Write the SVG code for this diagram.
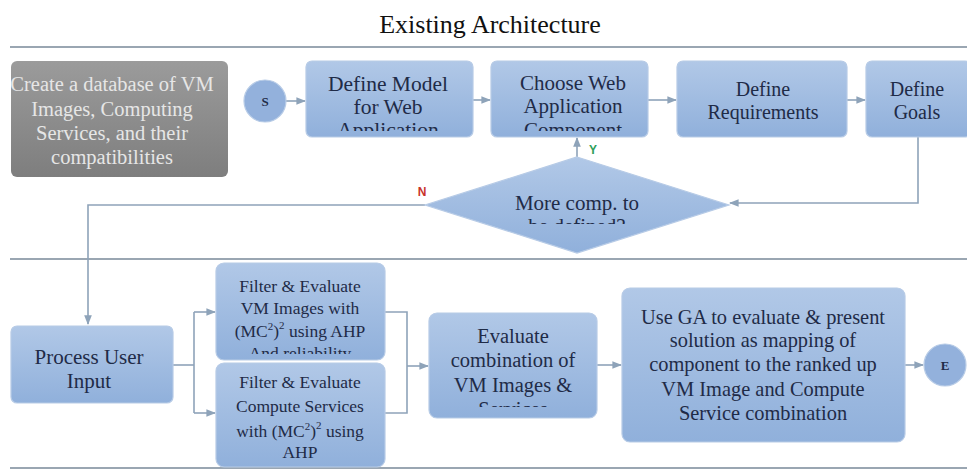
<svg xmlns="http://www.w3.org/2000/svg" width="967" height="471" viewBox="0 0 967 471">
<style>
.t{font-family:"Liberation Serif","Times New Roman",serif;fill:#1f2b47;text-anchor:middle}
.g{font-family:"Liberation Serif","Times New Roman",serif;fill:#e6e6e6;text-anchor:middle;font-size:20.5px}
.box{fill:url(#blue);stroke:#b7cbe6;stroke-width:1.2}
.sep{stroke:#9aa6b2;stroke-width:2;fill:none}
.c{stroke:#8ea3b9;stroke-width:1.6;fill:none}
</style>
<defs>
<linearGradient id="blue" x1="0" y1="0" x2="0" y2="1">
<stop offset="0" stop-color="#b1c8e7"/>
<stop offset="1" stop-color="#90b0db"/>
</linearGradient>
<linearGradient id="gray" x1="0" y1="0" x2="0" y2="1">
<stop offset="0" stop-color="#9b9b9b"/>
<stop offset="1" stop-color="#7e7e7e"/>
</linearGradient>
<marker id="ah" viewBox="0 0 10 10" refX="9" refY="5" markerWidth="6" markerHeight="6" orient="auto">
<path d="M0,1 L10,5 L0,9 z" fill="#8ea3b9"/>
</marker>
<clipPath id="cDM"><rect x="306" y="61" width="167" height="70"/></clipPath>
<clipPath id="cCW"><rect x="491" y="61" width="157" height="70"/></clipPath>
<clipPath id="cDi"><rect x="425" y="157" width="304" height="67"/></clipPath>
<clipPath id="cF1"><rect x="216" y="263" width="169" height="91"/></clipPath>
<clipPath id="cEv"><rect x="429" y="313" width="168" height="94"/></clipPath>
<clipPath id="cGr"><rect x="11" y="61" width="217" height="116"/></clipPath>
</defs>

<text x="490" y="33" style="font-family:'Liberation Serif','Times New Roman',serif;font-size:26px;fill:#111;text-anchor:middle">Existing Architecture</text>

<g id="separators">
<line class="sep" x1="10" y1="47" x2="967" y2="47"/>
<line class="sep" x1="10" y1="259" x2="967" y2="259"/>
<line class="sep" x1="10" y1="468" x2="967" y2="468"/>
</g>

<g id="connectors">
<line class="c" x1="286" y1="101" x2="305" y2="101" marker-end="url(#ah)"/>
<line class="c" x1="473" y1="100" x2="490" y2="100" marker-end="url(#ah)"/>
<line class="c" x1="648" y1="100" x2="676" y2="100" marker-end="url(#ah)"/>
<line class="c" x1="847" y1="100" x2="865" y2="100" marker-end="url(#ah)"/>
<polyline class="c" points="918,137 918,203 730,203" marker-end="url(#ah)"/>
<line class="c" x1="577" y1="157" x2="577" y2="138" marker-end="url(#ah)"/>
<polyline class="c" points="425,205 88,205 88,324" marker-end="url(#ah)"/>
<polyline class="c" points="173,365 194,365"/>
<line class="c" x1="194" y1="312" x2="194" y2="413"/>
<line class="c" x1="194" y1="312" x2="215" y2="312" marker-end="url(#ah)"/>
<line class="c" x1="194" y1="413" x2="215" y2="413" marker-end="url(#ah)"/>
<polyline class="c" points="385,312 407,312 407,413 385,413"/>
<line class="c" x1="407" y1="366" x2="428" y2="366" marker-end="url(#ah)"/>
<line class="c" x1="597" y1="365" x2="621" y2="365" marker-end="url(#ah)"/>
<line class="c" x1="905" y1="365" x2="923" y2="365" marker-end="url(#ah)"/>
<text x="593" y="154" style="font-family:'Liberation Sans',Arial,sans-serif;font-size:12px;font-weight:bold;fill:#2e9e5a;text-anchor:middle">Y</text>
<text x="422" y="196" style="font-family:'Liberation Sans',Arial,sans-serif;font-size:12px;font-weight:bold;fill:#c8322a;text-anchor:middle">N</text>
</g>

<g id="db">
<rect x="11" y="61" width="217" height="116" rx="6" fill="url(#gray)"/>
<g clip-path="url(#cGr)">
<text class="g" x="112" y="91">Create a database of VM</text>
<text class="g" x="112" y="116">Images, Computing</text>
<text class="g" x="112" y="140">Services, and their</text>
<text class="g" x="112" y="164">compatibilities</text>
</g>
</g>

<g id="start">
<circle cx="265" cy="101" r="21" fill="#93b1dc" stroke="#b7cbe6" stroke-width="1.2"/>
<text class="t" x="265" y="106" style="font-size:13px;font-weight:bold">S</text>
</g>

<g id="defineModel">
<rect class="box" x="306" y="61" width="167" height="76" rx="6"/>
<g clip-path="url(#cDM)">
<text class="t" x="388" y="91" style="font-size:21.5px">Define Model</text>
<text class="t" x="388" y="114" style="font-size:21.5px">for Web</text>
<text class="t" x="388" y="137" style="font-size:21.5px">Application</text>
</g>
</g>

<g id="chooseWeb">
<rect class="box" x="491" y="61" width="157" height="76" rx="6"/>
<g clip-path="url(#cCW)">
<text class="t" x="573" y="90" style="font-size:21px">Choose Web</text>
<text class="t" x="573" y="113" style="font-size:21px">Application</text>
<text class="t" x="573" y="137" style="font-size:21px">Component</text>
</g>
</g>

<g id="defineReq">
<rect class="box" x="677" y="61" width="170" height="76" rx="6"/>
<text class="t" x="763" y="96" style="font-size:20px">Define</text>
<text class="t" x="763" y="119" style="font-size:20px">Requirements</text>
</g>

<g id="defineGoals">
<rect class="box" x="866" y="61" width="105" height="76" rx="6"/>
<text class="t" x="917" y="96" style="font-size:20px">Define</text>
<text class="t" x="917" y="119" style="font-size:20px">Goals</text>
</g>

<g id="decision">
<polygon points="577,157 729,205 577,253 425,205" fill="url(#blue)" stroke="#b7cbe6" stroke-width="1.2"/>
<g clip-path="url(#cDi)">
<text class="t" x="577" y="210" style="font-size:21px">More comp. to</text>
<text class="t" x="577" y="233" style="font-size:21px">be defined?</text>
</g>
</g>

<g id="processInput">
<rect class="box" x="11" y="326" width="162" height="77" rx="6"/>
<text class="t" x="89" y="364" style="font-size:21px">Process User</text>
<text class="t" x="89" y="388" style="font-size:21px">Input</text>
</g>

<g id="filterVM">
<rect class="box" x="216" y="263" width="169" height="97" rx="8"/>
<g clip-path="url(#cF1)">
<text class="t" x="300" y="292" style="font-size:17.5px">Filter &amp; Evaluate</text>
<text class="t" x="300" y="314" style="font-size:17.5px">VM Images with</text>
<text class="t" x="300" y="337" style="font-size:17.5px">(MC<tspan font-size="11" dy="-7">2</tspan><tspan dy="7">)</tspan><tspan font-size="11" dy="-8">2</tspan><tspan dy="8"> using AHP</tspan></text>
<text class="t" x="300" y="359" style="font-size:17.5px">And reliability</text>
</g>
</g>

<g id="filterCS">
<rect class="box" x="216" y="363" width="169" height="104" rx="8"/>
<text class="t" x="300" y="388" style="font-size:17.5px">Filter &amp; Evaluate</text>
<text class="t" x="300" y="412" style="font-size:17.5px">Compute Services</text>
<text class="t" x="300" y="437" style="font-size:17.5px">with (MC<tspan font-size="11" dy="-7">2</tspan><tspan dy="7">)</tspan><tspan font-size="11" dy="-8">2</tspan><tspan dy="8"> using</tspan></text>
<text class="t" x="300" y="458" style="font-size:17.5px">AHP</text>
</g>

<g id="evalCombo">
<rect class="box" x="429" y="313" width="168" height="105" rx="8"/>
<g clip-path="url(#cEv)">
<text class="t" x="513" y="343" style="font-size:20.5px">Evaluate</text>
<text class="t" x="513" y="367" style="font-size:20.5px">combination of</text>
<text class="t" x="513" y="392" style="font-size:20.5px">VM Images &amp;</text>
<text class="t" x="513" y="416" style="font-size:20.5px">Services</text>
</g>
</g>

<g id="useGA">
<rect class="box" x="622" y="288" width="283" height="154" rx="8"/>
<text class="t" x="763" y="324" style="font-size:20.4px">Use GA to evaluate &amp; present</text>
<text class="t" x="763" y="347" style="font-size:20.4px">solution as mapping of</text>
<text class="t" x="763" y="371" style="font-size:20.4px">component to the ranked up</text>
<text class="t" x="763" y="396" style="font-size:20.4px">VM Image and Compute</text>
<text class="t" x="763" y="420" style="font-size:20.4px">Service combination</text>
</g>

<g id="end">
<circle cx="945" cy="365" r="21" fill="#93b1dc" stroke="#b7cbe6" stroke-width="1.2"/>
<text class="t" x="945" y="370" style="font-size:13px;font-weight:bold">E</text>
</g>
</svg>
